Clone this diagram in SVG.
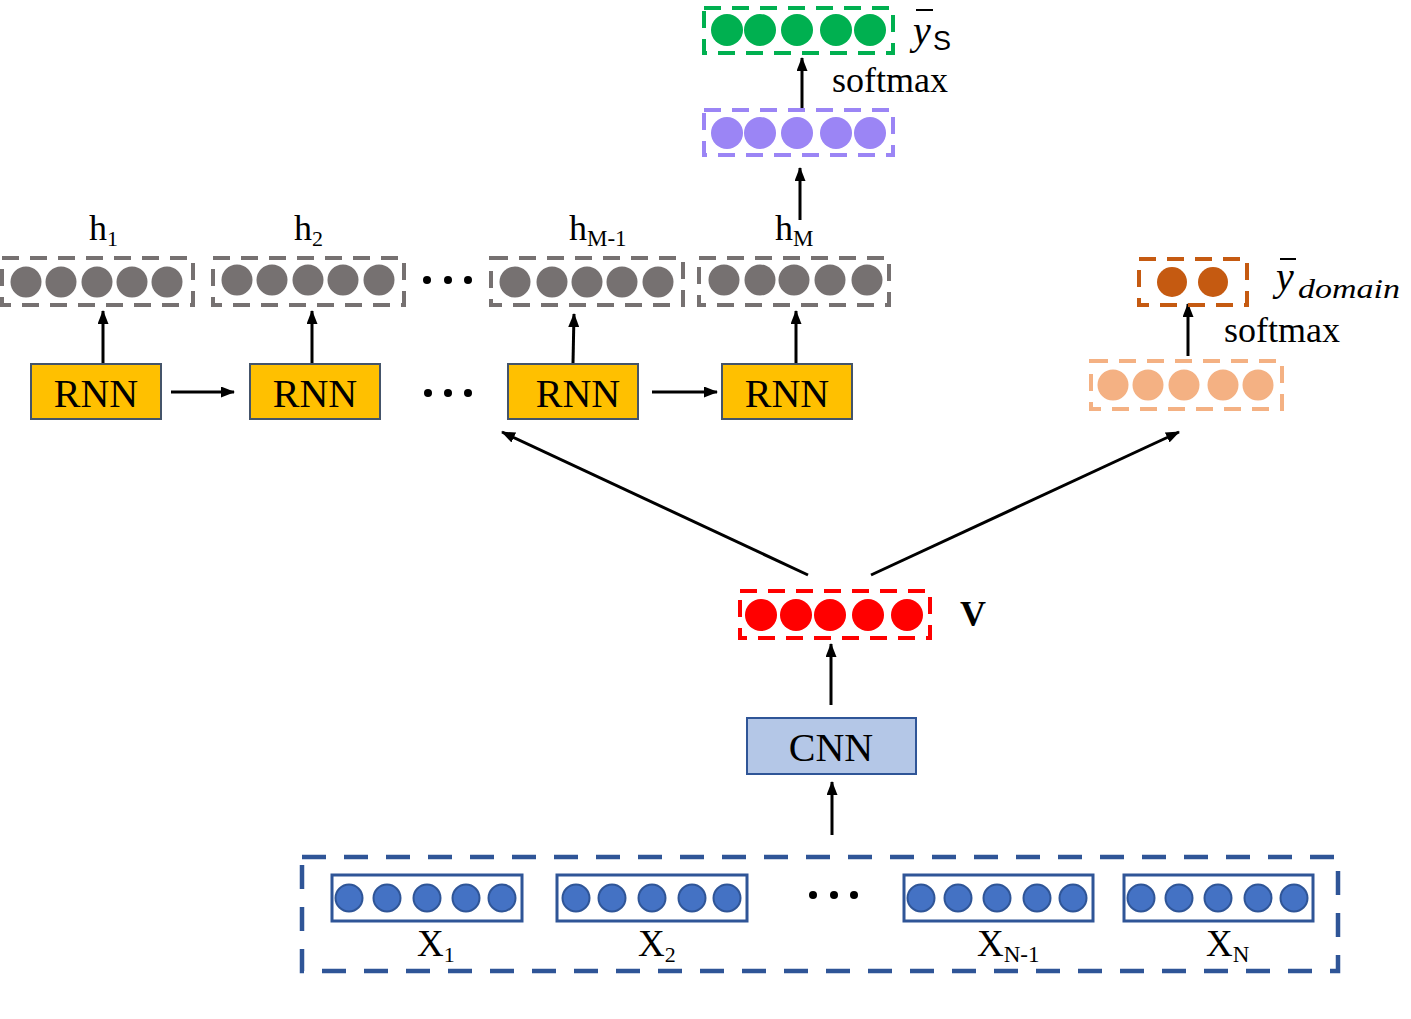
<svg xmlns="http://www.w3.org/2000/svg" width="1411" height="1019" viewBox="0 0 1411 1019">
<defs>
<marker id="ah" viewBox="0 0 14 11" refX="13" refY="5.5" markerWidth="14" markerHeight="11" markerUnits="userSpaceOnUse" orient="auto">
<path d="M0,0 L14,5.5 L0,11 z" fill="#000"/>
</marker>
<style>
.t{font-family:"Liberation Serif","Times New Roman",serif;fill:#000}
.dashg{fill:none;stroke:#767171;stroke-width:4;stroke-dasharray:17 11}
.cg{fill:#767171}
.rnn{fill:#FFC000;stroke:#44546A;stroke-width:2}
.arr{stroke:#000;stroke-width:3;fill:none;marker-end:url(#ah)}
.xb{fill:none;stroke:#2F5597;stroke-width:3}
.xc{fill:#4472C4;stroke:#2F5597;stroke-width:2}
</style>
</defs>
<rect width="1411" height="1019" fill="#fff"/>

<g id="connectors">
<line class="arr" x1="802" y1="110" x2="802" y2="58"/>
<line class="arr" x1="800" y1="220" x2="800" y2="168"/>
<line class="arr" x1="103" y1="363" x2="103" y2="311"/>
<line class="arr" x1="312" y1="363" x2="312" y2="311"/>
<line class="arr" x1="573" y1="363" x2="574" y2="314"/>
<line class="arr" x1="796" y1="363" x2="796" y2="311"/>
<line class="arr" x1="171" y1="392" x2="234" y2="392"/>
<line class="arr" x1="652" y1="392" x2="717" y2="392"/>
<line class="arr" x1="1188" y1="356" x2="1188" y2="304"/>
<line class="arr" x1="808" y1="575" x2="502" y2="432"/>
<line class="arr" x1="871" y1="575" x2="1179" y2="432"/>
<line class="arr" x1="831" y1="705" x2="831" y2="644"/>
<line class="arr" x1="832" y1="835" x2="832" y2="782"/>
</g>

<g id="ys-out">
<rect x="704" y="8" width="189" height="45" fill="none" stroke="#00B050" stroke-width="4" stroke-dasharray="17 11"/>
<g fill="#00B050"><circle cx="727" cy="30" r="16"/><circle cx="760" cy="30" r="16"/><circle cx="797" cy="30" r="16"/><circle cx="836" cy="30" r="16"/><circle cx="870" cy="30" r="16"/></g>
<line x1="916" y1="10" x2="933" y2="10" stroke="#000" stroke-width="2"/>
<text class="t" x="913" y="44" font-size="40" font-style="italic">y</text>
<text x="933" y="50" font-size="27" font-family="'Liberation Sans',Arial,sans-serif" fill="#000">S</text>
<text class="t" x="832" y="92" font-size="36">softmax</text>
</g>

<g id="purple-layer">
<rect x="704" y="110" width="189" height="45" fill="none" stroke="#9B85F5" stroke-width="4" stroke-dasharray="17 11"/>
<g fill="#9B85F5"><circle cx="727" cy="133" r="16"/><circle cx="760" cy="133" r="16"/><circle cx="797" cy="133" r="16"/><circle cx="836" cy="133" r="16"/><circle cx="870" cy="133" r="16"/></g>
</g>

<g id="h1">
<rect class="dashg" x="2" y="258" width="191" height="47"/>
<g class="cg"><circle cx="26" cy="282" r="15.5"/><circle cx="61" cy="282" r="15.5"/><circle cx="97" cy="282" r="15.5"/><circle cx="132" cy="282" r="15.5"/><circle cx="167" cy="282" r="15.5"/></g>
<text class="t" x="89" y="240" font-size="36">h<tspan font-size="22" dy="6">1</tspan></text>
</g>
<g id="h2">
<rect class="dashg" x="213" y="258" width="191" height="47"/>
<g class="cg"><circle cx="237" cy="280" r="15.5"/><circle cx="272" cy="280" r="15.5"/><circle cx="308" cy="280" r="15.5"/><circle cx="343" cy="280" r="15.5"/><circle cx="379" cy="280" r="15.5"/></g>
<text class="t" x="294" y="240" font-size="36">h<tspan font-size="22" dy="6">2</tspan></text>
</g>
<g id="dots-h" fill="#000"><circle cx="427" cy="280" r="4"/><circle cx="448" cy="280" r="4"/><circle cx="468" cy="280" r="4"/></g>
<g id="hM-1">
<rect class="dashg" x="491" y="258" width="192" height="47"/>
<g class="cg"><circle cx="515" cy="282" r="15.5"/><circle cx="552" cy="282" r="15.5"/><circle cx="587" cy="282" r="15.5"/><circle cx="622" cy="282" r="15.5"/><circle cx="658" cy="282" r="15.5"/></g>
<text class="t" x="569" y="240" font-size="36">h<tspan font-size="23" dy="6">M-1</tspan></text>
</g>
<g id="hM">
<rect class="dashg" x="699" y="258" width="190" height="47"/>
<g class="cg"><circle cx="724" cy="280" r="15.5"/><circle cx="760" cy="280" r="15.5"/><circle cx="794" cy="280" r="15.5"/><circle cx="830" cy="280" r="15.5"/><circle cx="867" cy="280" r="15.5"/></g>
<text class="t" x="775" y="240" font-size="36">h<tspan font-size="23" dy="6">M</tspan></text>
</g>

<g id="rnn1"><rect class="rnn" x="31" y="364" width="130" height="55"/><text class="t" x="96" y="407" font-size="40" text-anchor="middle">RNN</text></g>
<g id="rnn2"><rect class="rnn" x="250" y="364" width="130" height="55"/><text class="t" x="315" y="407" font-size="40" text-anchor="middle">RNN</text></g>
<g id="dots-rnn" fill="#000"><circle cx="428" cy="393" r="4"/><circle cx="448" cy="393" r="4"/><circle cx="468" cy="393" r="4"/></g>
<g id="rnn3"><rect class="rnn" x="508" y="364" width="130" height="55"/><text class="t" x="578" y="407" font-size="40" text-anchor="middle">RNN</text></g>
<g id="rnn4"><rect class="rnn" x="722" y="364" width="130" height="55"/><text class="t" x="787" y="407" font-size="40" text-anchor="middle">RNN</text></g>

<g id="ydomain-out">
<rect x="1139" y="259" width="108" height="46" fill="none" stroke="#C55A11" stroke-width="4" stroke-dasharray="17 11"/>
<g fill="#C55A11"><circle cx="1172" cy="282" r="15"/><circle cx="1213" cy="282" r="15"/></g>
<line x1="1280" y1="259" x2="1296" y2="259" stroke="#000" stroke-width="2"/>
<text class="t" x="1276" y="290" font-size="40" font-style="italic">y</text>
<text class="t" x="1298" y="298" font-size="28" font-style="italic" textLength="102" lengthAdjust="spacingAndGlyphs">domain</text>
<text class="t" x="1224" y="342" font-size="36">softmax</text>
</g>

<g id="domain-layer">
<rect x="1091" y="361" width="191" height="48" fill="none" stroke="#F4B183" stroke-width="4" stroke-dasharray="17 11"/>
<g fill="#F4B183"><circle cx="1113" cy="385" r="15.5"/><circle cx="1148" cy="385" r="15.5"/><circle cx="1184" cy="385" r="15.5"/><circle cx="1223" cy="385" r="15.5"/><circle cx="1258" cy="385" r="15.5"/></g>
</g>

<g id="v">
<rect x="740" y="591" width="190" height="47" fill="none" stroke="#FF0000" stroke-width="4" stroke-dasharray="17 11"/>
<g fill="#FF0000"><circle cx="761" cy="615" r="16"/><circle cx="796" cy="615" r="16"/><circle cx="830" cy="615" r="16"/><circle cx="868" cy="615" r="16"/><circle cx="907" cy="615" r="16"/></g>
<text class="t" x="960" y="626" font-size="36" font-weight="bold">V</text>
</g>

<g id="cnn">
<rect x="747" y="718" width="169" height="56" fill="#B4C7E7" stroke="#2F5597" stroke-width="2"/>
<text class="t" x="831" y="761" font-size="40" text-anchor="middle">CNN</text>
</g>

<g id="inputs">
<rect x="302" y="857" width="1036" height="114" fill="none" stroke="#2F5597" stroke-width="4.5" stroke-dasharray="24 18"/>
<g id="x1">
<rect class="xb" x="332" y="875" width="190" height="46"/>
<circle class="xc" cx="349" cy="898" r="13.5"/><circle class="xc" cx="387" cy="898" r="13.5"/><circle class="xc" cx="427" cy="898" r="13.5"/><circle class="xc" cx="466" cy="898" r="13.5"/><circle class="xc" cx="502" cy="898" r="13.5"/>
<text class="t" x="417" y="956" font-size="37">X<tspan font-size="22" dy="6">1</tspan></text>
</g>
<g id="x2">
<rect class="xb" x="557" y="875" width="190" height="46"/>
<circle class="xc" cx="576" cy="898" r="13.5"/><circle class="xc" cx="612" cy="898" r="13.5"/><circle class="xc" cx="652" cy="898" r="13.5"/><circle class="xc" cx="692" cy="898" r="13.5"/><circle class="xc" cx="727" cy="898" r="13.5"/>
<text class="t" x="638" y="956" font-size="37">X<tspan font-size="22" dy="6">2</tspan></text>
</g>
<g id="dots-x" fill="#000"><circle cx="813" cy="895" r="4"/><circle cx="834" cy="895" r="4"/><circle cx="854" cy="895" r="4"/></g>
<g id="xN-1">
<rect class="xb" x="904" y="875" width="189" height="46"/>
<circle class="xc" cx="921" cy="898" r="13.5"/><circle class="xc" cx="958" cy="898" r="13.5"/><circle class="xc" cx="997" cy="898" r="13.5"/><circle class="xc" cx="1037" cy="898" r="13.5"/><circle class="xc" cx="1073" cy="898" r="13.5"/>
<text class="t" x="977" y="956" font-size="37">X<tspan font-size="23" dy="6">N-1</tspan></text>
</g>
<g id="xN">
<rect class="xb" x="1124" y="875" width="189" height="46"/>
<circle class="xc" cx="1141" cy="898" r="13.5"/><circle class="xc" cx="1179" cy="898" r="13.5"/><circle class="xc" cx="1218" cy="898" r="13.5"/><circle class="xc" cx="1258" cy="898" r="13.5"/><circle class="xc" cx="1294" cy="898" r="13.5"/>
<text class="t" x="1206" y="956" font-size="37">X<tspan font-size="23" dy="6">N</tspan></text>
</g>
</g>
</svg>
